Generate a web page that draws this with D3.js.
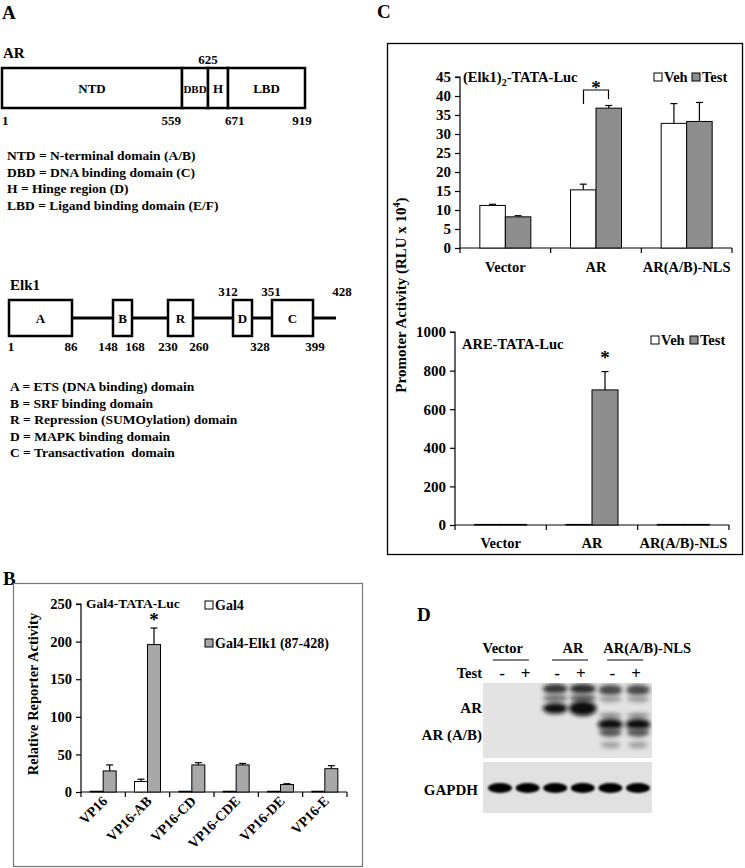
<!DOCTYPE html>
<html><head><meta charset="utf-8">
<script src="https://cdn.jsdelivr.net/npm/d3@7"></script>
<style>body{margin:0;background:#fff}svg{display:block;font-family:"Liberation Serif","Times New Roman",serif;font-weight:bold}</style>
</head><body>
<script>
// ---------- DATA ----------
const arDomains = [{name:"NTD",start:1,end:559},{name:"DBD",start:559,end:625},{name:"H",start:625,end:671},{name:"LBD",start:671,end:919}];
const arBreaks = [1,559,625,671,919];
const arLegend = ["NTD = N-terminal domain (A/B)","DBD = DNA binding domain (C)","H = Hinge region (D)","LBD = Ligand binding domain (E/F)"];
const elkDomains = [{name:"A",start:1,end:86},{name:"B",start:148,end:168},{name:"R",start:230,end:260},{name:"D",start:312,end:328},{name:"C",start:351,end:399}];
const elkBreaks = [1,86,148,168,230,260,312,328,351,399,428];
const elkLegend = ["A = ETS (DNA binding) domain","B = SRF binding domain","R = Repression (SUMOylation) domain","D = MAPK binding domain","C = Transactivation  domain"];

const bCats = ["VP16","VP16-AB","VP16-CD","VP16-CDE","VP16-DE","VP16-E"];
const bGal4 = [1,14,1,1,1,1];
const bGal4Err = [0,3,0,0,0,0];
const bElk = [28,196,36,36,10,31];
const bElkErr = [8,22,3,2,1,4];
const bTicks = [0,50,100,150,200,250];

const cCats = ["Vector","AR","AR(A/B)-NLS"];
const cTopVeh = [11.2,15.3,32.8];
const cTopVehErr = [0.3,1.5,5.2];
const cTopTest = [8.2,36.8,33.3];
const cTopTestErr = [0.3,0.7,5.0];
const cTopTicks = [0,5,10,15,20,25,30,35,40,45];
const cBotVeh = [3,3,3];
const cBotVehErr = [0,0,0];
const cBotTest = [3,700,3];
const cBotTestErr = [0,95,0];
const cBotTicks = [0,200,400,600,800,1000];

const dGroups = ["Vector","AR","AR(A/B)-NLS"];
const dLanes = ["-","+","-","+","-","+"];
// blot bands: lane index, apparent size (kDa-like), intensity, width factor, height
const dBands = [
  {lane:2,size:121,i:0.8,w:1.0,h:10},{lane:2,size:113,i:0.5,w:1.0,h:8},{lane:2,size:104,i:0.97,w:1.0,h:11},
  {lane:3,size:121,i:0.85,w:1.05,h:10},{lane:3,size:113,i:0.6,w:1.05,h:8},{lane:3,size:104,i:1.0,w:1.1,h:15},
  {lane:4,size:120,i:0.7,w:0.95,h:11},{lane:4,size:112,i:0.35,w:0.9,h:6},{lane:4,size:98,i:0.5,w:0.95,h:4},{lane:4,size:90,i:1.0,w:1.0,h:12},{lane:4,size:83,i:0.65,w:0.9,h:9},{lane:4,size:72,i:0.3,w:0.8,h:7},
  {lane:5,size:120,i:0.7,w:0.95,h:11},{lane:5,size:112,i:0.35,w:0.9,h:6},{lane:5,size:98,i:0.5,w:0.95,h:4},{lane:5,size:90,i:1.0,w:1.0,h:12},{lane:5,size:83,i:0.65,w:0.9,h:9},{lane:5,size:72,i:0.3,w:0.8,h:7}
];
const dGapdh = [1,1,1,1,1,1];

// ---------- SETUP ----------
const W=745,H=868;
const svg=d3.select("body").append("svg").attr("width",W).attr("height",H);
svg.append("rect").attr("width",W).attr("height",H).attr("fill","#fff");
const defs=svg.append("defs");
defs.append("filter").attr("id","blur").attr("x","-50%").attr("y","-100%").attr("width","200%").attr("height","300%")
  .append("feGaussianBlur").attr("stdDeviation","2.0 2.0");
defs.append("filter").attr("id","blur2").attr("x","-50%").attr("y","-100%").attr("width","200%").attr("height","300%")
  .append("feGaussianBlur").attr("stdDeviation","1.3 1.0");

function txt(g,x,y,s,size,anchor){return g.append("text").attr("x",x).attr("y",y).attr("font-size",size).attr("text-anchor",anchor||"start").attr("fill","#000").text(s);}

// panel letters
txt(svg,2,19,"A",19);
txt(svg,3,585,"B",19);
txt(svg,377,18,"C",19);
txt(svg,417,621,"D",19);

// ---------- PANEL A : AR ----------
const gA=svg.append("g");
txt(gA,3,58,"AR",15);
const xAR=d3.scaleLinear().domain(arBreaks).range([2,182,208,228,305]);
gA.selectAll("rect.ar").data(arDomains).join("rect")
  .attr("x",d=>xAR(d.start)).attr("y",68).attr("width",d=>xAR(d.end)-xAR(d.start)).attr("height",40)
  .attr("fill","#fff").attr("stroke","#000").attr("stroke-width",2.5);
gA.selectAll("text.ard").data(arDomains).join("text")
  .attr("x",d=>(xAR(d.start)+xAR(d.end))/2).attr("y",93).attr("text-anchor","middle")
  .attr("font-size",d=>d.name==="DBD"?11:13).text(d=>d.name);
const arLabels=[{v:1,a:"start",dx:0,top:false},{v:559,a:"end",dx:-1,top:false},{v:625,a:"middle",dx:0,top:true},{v:671,a:"start",dx:-3,top:false},{v:919,a:"middle",dx:-3,top:false}];
gA.selectAll("text.arl").data(arLabels).join("text")
  .attr("x",d=>xAR(d.v)+d.dx).attr("y",d=>d.top?64:125).attr("text-anchor",d=>d.a).attr("font-size",13).text(d=>d.v);
gA.selectAll("text.arleg").data(arLegend).join("text")
  .attr("x",7).attr("y",(d,i)=>160+i*16.7).attr("font-size",13.5).text(d=>d);

// ---------- PANEL A : Elk1 ----------
txt(gA,10,290,"Elk1",15);
const xE=d3.scaleLinear().domain(elkBreaks).range([9,72,113,132,168,193,233,252,272,313,336]);
gA.append("line").attr("x1",xE(1)).attr("x2",xE(428)).attr("y1",318).attr("y2",318).attr("stroke","#000").attr("stroke-width",3);
gA.selectAll("rect.elk").data(elkDomains).join("rect")
  .attr("x",d=>xE(d.start)).attr("y",300).attr("width",d=>xE(d.end)-xE(d.start)).attr("height",36)
  .attr("fill","#fff").attr("stroke","#000").attr("stroke-width",2.5);
gA.selectAll("text.elkd").data(elkDomains).join("text")
  .attr("x",d=>(xE(d.start)+xE(d.end))/2).attr("y",323).attr("text-anchor","middle").attr("font-size",13).text(d=>d.name);
const elkLabels=[{v:1,dx:2,top:false},{v:86,dx:-1,top:false},{v:148,dx:-5,top:false},{v:168,dx:3,top:false},{v:230,dx:0,top:false},{v:260,dx:6,top:false},
  {v:312,dx:-5,top:true},{v:328,dx:8,top:false},{v:351,dx:-1,top:true},{v:399,dx:2,top:false},{v:428,dx:6,top:true}];
gA.selectAll("text.elkl").data(elkLabels).join("text")
  .attr("x",d=>xE(d.v)+d.dx).attr("y",d=>d.top?296:351).attr("text-anchor","middle").attr("font-size",13).text(d=>d.v);
gA.selectAll("text.elkleg").data(elkLegend).join("text")
  .attr("x",10).attr("y",(d,i)=>391+i*16.6).attr("font-size",13.5).style("white-space","pre").text(d=>d);

// ---------- generic grouped bar chart ----------
function barChart(g,opt){
  const x=d3.scaleBand().domain(opt.cats).range(opt.xr);
  const y=d3.scaleLinear().domain(opt.ydom).range(opt.yr);
  const bw=opt.bw;
  const ya=g.append("g").attr("transform",`translate(${opt.xr[0]},0)`)
    .call(d3.axisLeft(y).tickValues(opt.ticks).tickFormat(d3.format("d")).tickSize(5).tickPadding(4));
  ya.select(".domain").attr("stroke","#000").attr("stroke-width",1.2).attr("d",`M-5,${y(opt.ticks[opt.ticks.length-1])}H0V${opt.yr[0]}`);
  ya.selectAll(".tick line").attr("stroke","#000").attr("stroke-width",1.2);
  ya.selectAll("text").attr("font-size",opt.fs).attr("fill","#000").attr("font-family","Liberation Serif").attr("font-weight","bold");
  const base=opt.yr[0];
  g.append("line").attr("x1",opt.xr[0]).attr("x2",opt.xr[1]).attr("y1",base).attr("y2",base).attr("stroke","#000").attr("stroke-width",1.2);
  const bounds=opt.cats.map(c=>x(c)).concat([opt.xr[1]]);
  g.selectAll("line.xt").data(bounds).join("line").attr("x1",d=>d).attr("x2",d=>d).attr("y1",base).attr("y2",base+5).attr("stroke","#000").attr("stroke-width",1.2);
  const series=[{vals:opt.s1,err:opt.e1,fill:"#fff",off:-bw},{vals:opt.s2,err:opt.e2,fill:opt.grey,off:0}];
  series.forEach(s=>{
    const cx=c=>x(c)+x.bandwidth()/2+s.off;
    g.selectAll(null).data(opt.cats).join("g").each(function(c,i){
      if(!s.err[i])return;
      const gg=d3.select(this);const xm=cx(c)+bw/2;
      gg.append("line").attr("x1",xm).attr("x2",xm).attr("y1",y(s.vals[i])).attr("y2",y(s.vals[i]+s.err[i])).attr("stroke","#000").attr("stroke-width",1.2);
      gg.append("line").attr("x1",xm-3.5).attr("x2",xm+3.5).attr("y1",y(s.vals[i]+s.err[i])).attr("y2",y(s.vals[i]+s.err[i])).attr("stroke","#000").attr("stroke-width",1.2);
    });
    g.selectAll(null).data(opt.cats).join("rect")
      .attr("x",c=>cx(c)).attr("width",bw).attr("y",(c,i)=>y(s.vals[i])).attr("height",(c,i)=>base-y(s.vals[i]))
      .attr("fill",s.fill).attr("stroke","#000").attr("stroke-width",1);
  });
  return {x,y};
}
function legendSq(g,x,y,fill,label,fs){
  g.append("rect").attr("x",x).attr("y",y-4).attr("width",8).attr("height",8).attr("fill",fill).attr("stroke","#000").attr("stroke-width",1);
  txt(g,x+10,y+5,label,fs);
}

// ---------- PANEL B ----------
const gB=svg.append("g");
gB.append("rect").attr("x",13.5).attr("y",583.5).attr("width",349).attr("height",283).attr("fill","none").attr("stroke","#777").attr("stroke-width",1.2);
const bS=barChart(gB,{cats:bCats,xr:[81,347],ydom:[0,250],yr:[792,604],ticks:bTicks,s1:bGal4,e1:bGal4Err,s2:bElk,e2:bElkErr,bw:13,grey:"#a8a8a8",fs:14.5});
gB.selectAll("text.bx").data(bCats).join("text")
  .attr("transform",d=>`translate(${bS.x(d)+bS.x.bandwidth()/2+5},${802}) rotate(-45)`)
  .attr("text-anchor","end").attr("font-size",14).text(d=>d);
txt(gB,86,608,"Gal4-TATA-Luc",13.5);
legendSq(gB,205,605,"#fff","Gal4",14);
legendSq(gB,205,643,"#a8a8a8","Gal4-Elk1 (87-428)",14);
gB.append("text").attr("transform","translate(38,694) rotate(-90)").attr("text-anchor","middle").attr("font-size",14.5).text("Relative Reporter Activity");
txt(gB,bS.x("VP16-AB")+bS.x.bandwidth()/2+6.5,bS.y(bElk[1]+bElkErr[1])-2,"*",19,"middle");

// ---------- PANEL C ----------
const gC=svg.append("g");
gC.append("rect").attr("x",387.5).attr("y",43.5).attr("width",355).attr("height",511).attr("fill","none").attr("stroke","#000").attr("stroke-width",1.3);
const cT=barChart(gC,{cats:cCats,xr:[460,732],ydom:[0,45],yr:[248,77],ticks:cTopTicks,s1:cTopVeh,e1:cTopVehErr,s2:cTopTest,e2:cTopTestErr,bw:25.5,grey:"#8e8e8e",fs:15});
gC.selectAll("text.ctx").data(cCats).join("text").attr("x",d=>cT.x(d)+cT.x.bandwidth()/2).attr("y",272).attr("text-anchor","middle").attr("font-size",14.5).text(d=>d);
const t1=txt(gC,463,82,"(Elk1)",14.5);
t1.append("tspan").attr("font-size",10).attr("dy",4).text("2");
t1.append("tspan").attr("dy",-4).text("-TATA-Luc");
legendSq(gC,654,77,"#fff","Veh",14.5);
legendSq(gC,692,77,"#8e8e8e","Test",14.5);
// significance bracket between AR Veh and AR Test
{
  const xa=cT.x("AR")+cT.x.bandwidth()/2;
  const l=xa-12.5, r=xa+12.5, top=90;
  gC.append("path").attr("d",`M${l},${top+14}V${top}H${r}V${top+9}`).attr("fill","none").attr("stroke","#000").attr("stroke-width",1.2);
  txt(gC,(l+r)/2,top+4,"*",19,"middle");
}
const cB=barChart(gC,{cats:cCats,xr:[455,729],ydom:[0,1000],yr:[525,332],ticks:cBotTicks,s1:cBotVeh,e1:cBotVehErr,s2:cBotTest,e2:cBotTestErr,bw:26,grey:"#8e8e8e",fs:15});
gC.selectAll("text.cbx").data(cCats).join("text").attr("x",d=>cB.x(d)+cB.x.bandwidth()/2).attr("y",548).attr("text-anchor","middle").attr("font-size",14.5).text(d=>d);
txt(gC,462,349,"ARE-TATA-Luc",14.5);
legendSq(gC,651,340,"#fff","Veh",14.5);
legendSq(gC,690,340,"#8e8e8e","Test",14.5);
txt(gC,cB.x("AR")+cB.x.bandwidth()/2+13,cB.y(cBotTest[1]+cBotTestErr[1])-8,"*",19,"middle");
const yl=gC.append("text").attr("transform","translate(406,295) rotate(-90)").attr("text-anchor","middle").attr("font-size",15).text("Promoter Activity (RLU x 10");
yl.append("tspan").attr("font-size",10).attr("dy",-6).text("4");
yl.append("tspan").attr("dy",6).text(")");

// ---------- PANEL D ----------
const gD=svg.append("g");
const lx=d3.scalePoint().domain(d3.range(dLanes.length)).range([500,638]);
const grpTextDx=[-11,4,23], grpLineDx=[-3,1,1];
dGroups.forEach((gname,gi)=>{
  const a=lx(gi*2),b=lx(gi*2+1),c=(a+b)/2;
  txt(gD,c+grpTextDx[gi],653,gname,14.5,"middle");
  gD.append("line").attr("x1",c+grpLineDx[gi]-18).attr("x2",c+grpLineDx[gi]+18).attr("y1",660).attr("y2",660).attr("stroke","#000").attr("stroke-width",1);
});
txt(gD,482,678,"Test",14.5,"end");
gD.selectAll("text.pm").data(dLanes).join("text").attr("x",(d,i)=>lx(i)+(i%2?-2:2)).attr("y",679).attr("text-anchor","middle").attr("font-size",17).text(d=>d);
gD.append("rect").attr("x",483).attr("y",683).attr("width",169).attr("height",75).attr("fill","#e3e3e3");
gD.append("rect").attr("x",483).attr("y",762).attr("width",169).attr("height",51).attr("fill","#e1e1e1");
const ySize=d3.scaleLinear().domain([72,120]).range([745,690]);
defs.append("clipPath").attr("id","cb1").append("rect").attr("x",483).attr("y",683).attr("width",169).attr("height",75);
const gBlot=gD.append("g").attr("clip-path","url(#cb1)");
gBlot.selectAll("ellipse").data(dBands).join("ellipse")
  .attr("cx",d=>lx(d.lane)).attr("cy",d=>ySize(d.size)).attr("rx",d=>12.5*d.w).attr("ry",d=>d.h/2)
  .attr("fill",d=>d3.interpolateRgb("#e3e3e3","#0a0a0a")(d.i)).attr("filter","url(#blur)");
gD.selectAll("ellipse.gapdh").data(dGapdh).join("ellipse")
  .attr("cx",(d,i)=>lx(i)).attr("cy",788).attr("rx",12).attr("ry",5)
  .attr("fill",d=>d3.interpolateRgb("#e1e1e1","#050505")(d)).attr("filter","url(#blur2)");
txt(gD,482,713,"AR",15,"end");
txt(gD,482,740,"AR (A/B)",15,"end");
txt(gD,478,795,"GAPDH",15,"end");
</script>
</body></html>
